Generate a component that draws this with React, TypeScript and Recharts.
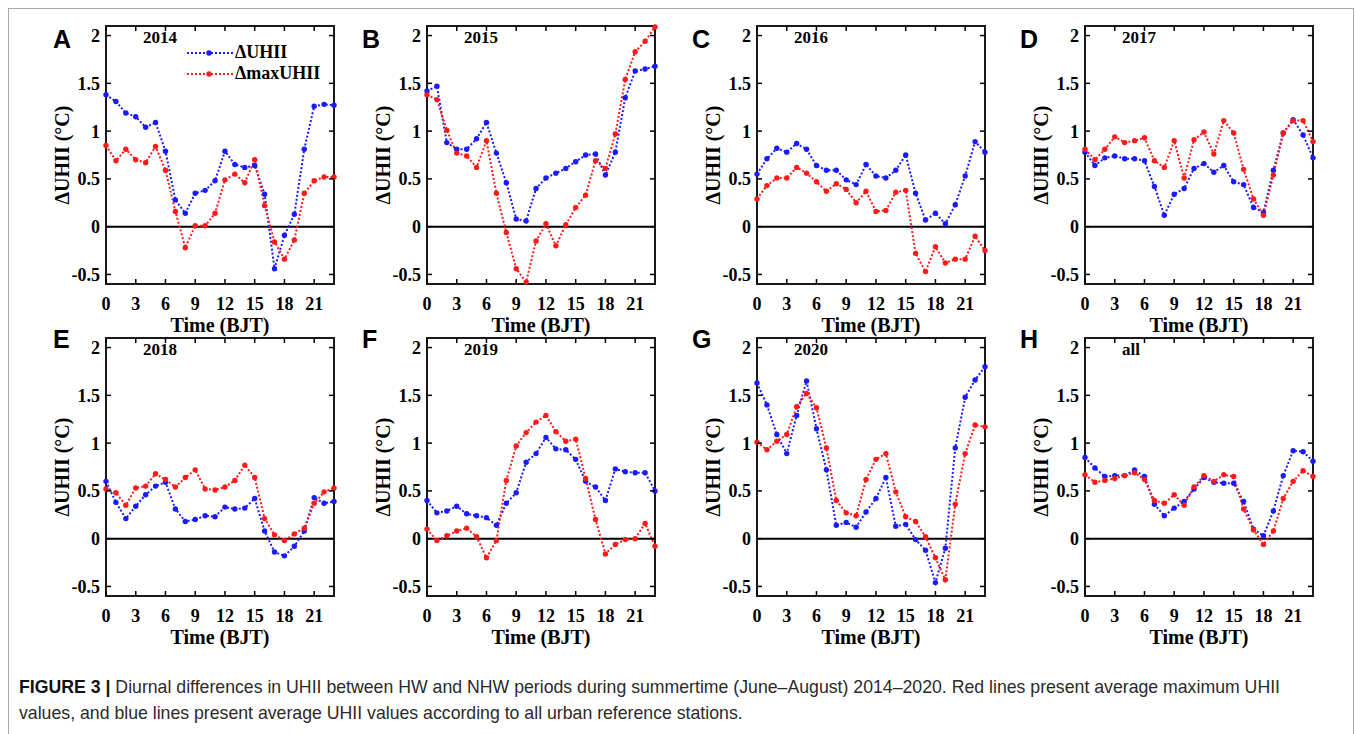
import { LineChart, Line, XAxis, YAxis, ReferenceLine, ReferenceArea, Legend } from "recharts";

const hours = [0, 1, 2, 3, 4, 5, 6, 7, 8, 9, 10, 11, 12, 13, 14, 15, 16, 17, 18, 19, 20, 21, 22, 23];
const hourTicks = [0, 3, 6, 9, 12, 15, 18, 21];
const uhiiTicks = [-0.5, 0, 0.5, 1, 1.5, 2];
const panelLetters = ["A", "B", "C", "D", "E", "F", "G", "H"];
const panelYears = ["2014", "2015", "2016", "2017", "2018", "2019", "2020", "all"];

// ΔUHII (blue) and ΔmaxUHII (red), hourly 0..23 BJT
const uhii2014 = [1.38, 1.31, 1.19, 1.15, 1.04, 1.09, 0.79, 0.28, 0.14, 0.35, 0.38, 0.48, 0.79, 0.65, 0.62, 0.64, 0.34, -0.44, -0.09, 0.13, 0.81, 1.26, 1.28, 1.27];
const maxUhii2014 = [0.85, 0.69, 0.81, 0.7, 0.67, 0.84, 0.59, 0.16, -0.22, 0.01, 0.01, 0.14, 0.49, 0.55, 0.46, 0.7, 0.22, -0.16, -0.34, -0.14, 0.35, 0.48, 0.52, 0.52];
const uhii2015 = [1.42, 1.47, 0.88, 0.81, 0.81, 0.92, 1.09, 0.77, 0.46, 0.08, 0.06, 0.4, 0.51, 0.56, 0.61, 0.68, 0.75, 0.76, 0.54, 0.78, 1.35, 1.63, 1.65, 1.68];
const maxUhii2015 = [1.38, 1.33, 1.01, 0.77, 0.74, 0.62, 0.9, 0.35, -0.06, -0.44, -0.58, -0.15, 0.03, -0.2, 0.02, 0.2, 0.33, 0.69, 0.61, 0.97, 1.54, 1.83, 1.94, 2.09];
const uhii2016 = [0.55, 0.71, 0.82, 0.78, 0.87, 0.81, 0.64, 0.59, 0.59, 0.49, 0.44, 0.65, 0.53, 0.51, 0.59, 0.75, 0.35, 0.07, 0.14, 0.03, 0.23, 0.53, 0.89, 0.78];
const maxUhii2016 = [0.29, 0.43, 0.51, 0.51, 0.62, 0.56, 0.47, 0.37, 0.45, 0.39, 0.25, 0.37, 0.16, 0.17, 0.36, 0.38, -0.28, -0.47, -0.21, -0.38, -0.34, -0.34, -0.1, -0.25];
const uhii2017 = [0.78, 0.64, 0.72, 0.74, 0.71, 0.71, 0.69, 0.42, 0.12, 0.34, 0.4, 0.61, 0.66, 0.57, 0.64, 0.47, 0.44, 0.2, 0.15, 0.59, 0.98, 1.12, 0.96, 0.72];
const maxUhii2017 = [0.81, 0.7, 0.81, 0.94, 0.88, 0.9, 0.93, 0.69, 0.62, 0.9, 0.51, 0.91, 0.99, 0.76, 1.11, 0.98, 0.6, 0.29, 0.12, 0.54, 0.98, 1.11, 1.11, 0.89];
const uhii2018 = [0.6, 0.38, 0.21, 0.34, 0.46, 0.55, 0.59, 0.31, 0.18, 0.2, 0.24, 0.23, 0.33, 0.31, 0.32, 0.42, 0.08, -0.14, -0.18, -0.08, 0.08, 0.43, 0.37, 0.39];
const maxUhii2018 = [0.52, 0.48, 0.35, 0.53, 0.55, 0.68, 0.62, 0.54, 0.64, 0.72, 0.52, 0.51, 0.54, 0.61, 0.77, 0.64, 0.21, 0.04, -0.02, 0.05, 0.11, 0.37, 0.49, 0.53];
const uhii2019 = [0.4, 0.27, 0.29, 0.34, 0.26, 0.24, 0.22, 0.14, 0.37, 0.48, 0.8, 0.89, 1.06, 0.94, 0.93, 0.83, 0.6, 0.54, 0.4, 0.73, 0.7, 0.69, 0.69, 0.5];
const maxUhii2019 = [0.1, -0.02, 0.03, 0.08, 0.11, 0.02, -0.2, -0.02, 0.61, 0.97, 1.11, 1.22, 1.29, 1.12, 1.02, 1.04, 0.63, 0.2, -0.16, -0.06, -0.01, 0.0, 0.16, -0.08];
const uhii2020 = [1.63, 1.4, 1.09, 0.89, 1.29, 1.65, 1.15, 0.72, 0.14, 0.17, 0.12, 0.28, 0.42, 0.64, 0.13, 0.15, -0.01, -0.12, -0.46, -0.1, 0.95, 1.48, 1.66, 1.8];
const maxUhii2020 = [1.01, 0.93, 1.02, 1.09, 1.38, 1.52, 1.37, 0.95, 0.4, 0.27, 0.24, 0.62, 0.83, 0.89, 0.49, 0.23, 0.18, 0.02, -0.2, -0.43, 0.36, 0.89, 1.19, 1.17];
const uhiiAll = [0.85, 0.74, 0.65, 0.66, 0.66, 0.72, 0.65, 0.36, 0.24, 0.32, 0.39, 0.52, 0.64, 0.59, 0.58, 0.58, 0.39, 0.1, 0.03, 0.29, 0.66, 0.92, 0.91, 0.81];
const maxUhiiAll = [0.67, 0.59, 0.61, 0.63, 0.66, 0.69, 0.62, 0.4, 0.37, 0.46, 0.35, 0.54, 0.66, 0.6, 0.67, 0.65, 0.31, 0.09, -0.06, 0.08, 0.42, 0.6, 0.71, 0.65];

const uhiiSeries = [uhii2014, uhii2015, uhii2016, uhii2017, uhii2018, uhii2019, uhii2020, uhiiAll];
const maxUhiiSeries = [maxUhii2014, maxUhii2015, maxUhii2016, maxUhii2017, maxUhii2018, maxUhii2019, maxUhii2020, maxUhiiAll];

const serif = '"Liberation Serif", "Times New Roman", serif';
const sans = '"Liberation Sans", Arial, sans-serif';
const BLUE = "#1a1aff";
const RED = "#ff1a1a";

const PLOT_W = 228;
const PLOT_H = 258;
const Y_W = 60;
const X_H = 60;
const M_TOP = 10;
const M_RIGHT = 10;
const TICK_LEN = 5;
const plotLefts = [106, 427, 757, 1085];
const plotTops = [26, 338];
const letterLefts = [53, 362, 692, 1020];
const letterBaselines = [48, 348];

const tickText = { fontFamily: serif, fontWeight: "bold" as const, fontSize: 18, fill: "#000" };

// bottom tick: label plus inward marks on bottom and top edges
const HourTick = (props: any) => {
  const { x, y, payload } = props;
  const bottom = M_TOP + PLOT_H;
  return (
    <g>
      <line x1={x} x2={x} y1={bottom} y2={bottom - TICK_LEN} stroke="#000" strokeWidth={1.5} />
      <line x1={x} x2={x} y1={M_TOP} y2={M_TOP + TICK_LEN} stroke="#000" strokeWidth={1.5} />
      <text x={x} y={y} dy="0.71em" textAnchor="middle" {...tickText}>
        {payload.value}
      </text>
    </g>
  );
};

// left tick: label plus inward marks on left and right edges
const UhiiTick = (props: any) => {
  const { x, y, payload } = props;
  const right = Y_W + PLOT_W;
  return (
    <g>
      <line x1={Y_W} x2={Y_W + TICK_LEN} y1={y} y2={y} stroke="#000" strokeWidth={1.5} />
      <line x1={right} x2={right - TICK_LEN} y1={y} y2={y} stroke="#000" strokeWidth={1.5} />
      <text x={x} y={y} dy="0.355em" textAnchor="end" {...tickText}>
        {payload.value}
      </text>
    </g>
  );
};

const renderLegend = (props: any) => (
  <div style={{ fontFamily: serif, fontWeight: "bold", fontSize: 18, lineHeight: "21px", color: "#000" }}>
    {(props.payload || []).map((entry: any) => (
      <div key={entry.value} style={{ display: "flex", alignItems: "center", whiteSpace: "nowrap" }}>
        <svg width={46} height={10}>
          <line x1={0} y1={5} x2={46} y2={5} stroke={entry.color} strokeWidth={2} strokeDasharray="2 2" />
          <circle cx={22} cy={5} r={2.7} fill={entry.color} />
        </svg>
        <span style={{ marginLeft: 2 }}>{entry.value}</span>
      </div>
    ))}
  </div>
);

const Panel = ({ index }: { index: number }) => {
  const col = index % 4;
  const row = Math.floor(index / 4);
  const plotLeft = plotLefts[col];
  const plotTop = plotTops[row];
  const data = hours.map((h, i) => ({
    hour: h,
    uhii: uhiiSeries[index][i],
    maxUhii: maxUhiiSeries[index][i],
  }));

  return (
    <>
      <div
        style={{
          position: "absolute",
          left: letterLefts[col],
          top: letterBaselines[row] - 21,
          fontFamily: sans,
          fontWeight: "bold",
          fontSize: 25,
          lineHeight: 1,
          color: "#000",
        }}
      >
        {panelLetters[index]}
      </div>
      <div
        style={{
          position: "absolute",
          left: plotLeft - 44,
          top: plotTop + PLOT_H / 2,
          transform: "translate(-50%, -50%) rotate(-90deg)",
          fontFamily: serif,
          fontWeight: "bold",
          fontSize: 20,
          whiteSpace: "nowrap",
          color: "#000",
        }}
      >
        ΔUHII (°C)
      </div>
      <div style={{ position: "absolute", left: plotLeft - Y_W, top: plotTop - M_TOP }}>
        <LineChart
          width={Y_W + PLOT_W + M_RIGHT}
          height={M_TOP + PLOT_H + X_H}
          data={data}
          margin={{ top: M_TOP, right: M_RIGHT, left: 0, bottom: 0 }}
        >
          <XAxis
            dataKey="hour"
            type="number"
            domain={[0, 23]}
            ticks={hourTicks}
            interval={0}
            height={X_H}
            tickSize={0}
            tickMargin={13}
            axisLine={false}
            tickLine={false}
            tick={<HourTick />}
            label={{
              value: "Time (BJT)",
              position: "insideBottom",
              offset: 12,
              style: { fontFamily: serif, fontWeight: "bold", fontSize: 20, fill: "#000" },
            }}
          />
          <YAxis
            type="number"
            domain={[-0.6, 2.1]}
            ticks={uhiiTicks}
            interval={0}
            width={Y_W}
            tickSize={0}
            tickMargin={6}
            axisLine={false}
            tickLine={false}
            tick={<UhiiTick />}
          />
          <ReferenceLine y={0} stroke="#000" strokeWidth={2} />
          {index === 0 && (
            <Legend
              layout="vertical"
              align="center"
              verticalAlign="middle"
              content={renderLegend}
              wrapperStyle={{ left: Y_W + 81, top: M_TOP + 16, width: 160 }}
            />
          )}
          <Line
            type="linear"
            dataKey="uhii"
            name="ΔUHII"
            stroke={BLUE}
            strokeWidth={2}
            strokeDasharray="2 2"
            dot={{ r: 2.7, fill: BLUE, stroke: BLUE, strokeWidth: 0 }}
            activeDot={false}
            isAnimationActive={false}
          />
          <Line
            type="linear"
            dataKey="maxUhii"
            name="ΔmaxUHII"
            stroke={RED}
            strokeWidth={2}
            strokeDasharray="2 2"
            dot={{ r: 2.7, fill: RED, stroke: RED, strokeWidth: 0 }}
            activeDot={false}
            isAnimationActive={false}
          />
          <ReferenceArea
            x1={0}
            x2={23}
            y1={-0.6}
            y2={2.1}
            fill="none"
            fillOpacity={0}
            stroke="#1a1a1a"
            strokeWidth={2}
            ifOverflow="visible"
          />
        </LineChart>
      </div>
      <div
        style={{
          position: "absolute",
          left: plotLeft + 37,
          top: plotTop + 3,
          fontFamily: serif,
          fontWeight: "bold",
          fontSize: 17,
          lineHeight: 1,
          color: "#000",
        }}
      >
        {panelYears[index]}
      </div>
    </>
  );
};

const App = () => {
  return (
    <div style={{ position: "absolute", left: 0, top: 0, width: 1355, height: 734, overflow: "hidden", background: "#fff" }}>
      <div
        style={{
          position: "absolute",
          left: 8,
          top: 8,
          width: 1344,
          height: 740,
          border: "1px solid #a8a8a8",
        }}
      />
      {panelLetters.map((_, i) => (
        <Panel key={i} index={i} />
      ))}
      <div
        style={{
          position: "absolute",
          left: 19,
          top: 674,
          width: 1330,
          fontFamily: sans,
          fontSize: 17.7,
          lineHeight: "26px",
          color: "#2a2a2a",
          whiteSpace: "nowrap",
        }}
      >
        <b style={{ color: "#111" }}>FIGURE 3 |</b> Diurnal differences in UHII between HW and NHW periods during summertime (June–August) 2014–2020. Red lines present average maximum UHII
        <br />
        values, and blue lines present average UHII values according to all urban reference stations.
      </div>
    </div>
  );
};

export default App;
